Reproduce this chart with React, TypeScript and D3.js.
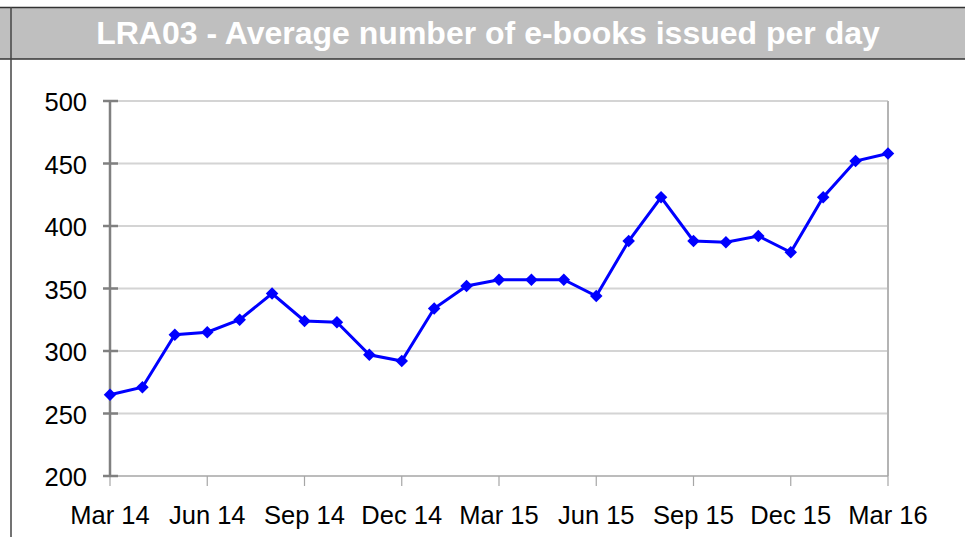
import React, { useEffect, useRef } from 'react';
import * as d3 from 'd3';

// monthly averages, Mar 14 .. Mar 16
const months = [
  'Mar 14', 'Apr 14', 'May 14', 'Jun 14', 'Jul 14', 'Aug 14', 'Sep 14', 'Oct 14', 'Nov 14',
  'Dec 14', 'Jan 15', 'Feb 15', 'Mar 15', 'Apr 15', 'May 15', 'Jun 15', 'Jul 15', 'Aug 15',
  'Sep 15', 'Oct 15', 'Nov 15', 'Dec 15', 'Jan 16', 'Feb 16', 'Mar 16'
];
const values = [
  265, 271, 313, 315, 325, 346, 324, 323, 297, 292, 334, 352, 357,
  357, 357, 344, 388, 423, 388, 387, 392, 379, 423, 452, 458
];
const xTickLabels = ['Mar 14', 'Jun 14', 'Sep 14', 'Dec 14', 'Mar 15', 'Jun 15', 'Sep 15', 'Dec 15', 'Mar 16'];
const yTicks = [200, 250, 300, 350, 400, 450, 500];
const title = 'LRA03 - Average number of e-books issued per day';

const App = () => {
  const container = useRef(null);

  useEffect(() => {
    const width = 965;
    const height = 537;
    const margins = { l: 110, t: 101, r: 77, b: 61 };
    const plotwidth = width - margins.l - margins.r;
    const plotheight = height - margins.t - margins.b;

    const xScale = d3
      .scaleLinear()
      .domain([0, months.length - 1])
      .range([0, plotwidth]);

    const yScale = d3
      .scaleLinear()
      .domain([200, 500])
      .range([plotheight, 0]);

    const svg = d3
      .select(container.current)
      .selectAll('svg')
      .data([0])
      .join('svg')
      .attr('width', width)
      .attr('height', height)
      .style('position', 'absolute')
      .style('left', 0)
      .style('top', 0)
      .style('font-family', '"Liberation Sans", Arial, sans-serif');

    svg.selectAll('*').remove();

    // title band
    svg.append('rect')
      .attr('x', 0).attr('y', 7)
      .attr('width', width).attr('height', 52)
      .attr('fill', '#bfbfbf');
    svg.append('line')
      .attr('x1', 0).attr('x2', width).attr('y1', 7.5).attr('y2', 7.5)
      .attr('stroke', '#333').attr('stroke-width', 1.5);
    svg.append('line')
      .attr('x1', 0).attr('x2', width).attr('y1', 59).attr('y2', 59)
      .attr('stroke', '#333').attr('stroke-width', 1.5);
    svg.append('line')
      .attr('x1', 11).attr('x2', 11).attr('y1', 7).attr('y2', height)
      .attr('stroke', '#444').attr('stroke-width', 1.5);
    svg.append('text')
      .attr('x', 488).attr('y', 44)
      .attr('text-anchor', 'middle')
      .attr('fill', '#fff')
      .attr('font-weight', 'bold')
      .attr('font-size', 32)
      .text(title);

    const plotg = svg.append('g')
      .attr('transform', `translate(${margins.l}, ${margins.t})`);

    // gridlines
    plotg.selectAll('.grid')
      .data(yTicks.filter(d => d > 200))
      .join('line')
      .attr('class', 'grid')
      .attr('x1', 0).attr('x2', plotwidth)
      .attr('y1', d => yScale(d)).attr('y2', d => yScale(d))
      .attr('stroke', '#d4d4d4').attr('stroke-width', 2);

    // right border
    plotg.append('line')
      .attr('x1', plotwidth).attr('x2', plotwidth)
      .attr('y1', 0).attr('y2', plotheight)
      .attr('stroke', '#b4b4b4').attr('stroke-width', 2);

    // x axis
    plotg.append('line')
      .attr('x1', 0).attr('x2', plotwidth)
      .attr('y1', plotheight).attr('y2', plotheight)
      .attr('stroke', '#a6a6a6').attr('stroke-width', 1.5);
    const xTickIdx = xTickLabels.map(l => months.indexOf(l));
    plotg.selectAll('.xtick')
      .data(xTickIdx)
      .join('line')
      .attr('class', 'xtick')
      .attr('x1', d => xScale(d)).attr('x2', d => xScale(d))
      .attr('y1', plotheight).attr('y2', plotheight + 10)
      .attr('stroke', '#a6a6a6').attr('stroke-width', 1.2);
    plotg.selectAll('.xlabel')
      .data(xTickIdx)
      .join('text')
      .attr('class', 'xlabel')
      .attr('x', d => xScale(d))
      .attr('y', plotheight + 48)
      .attr('text-anchor', 'middle')
      .attr('font-size', 25.5)
      .attr('fill', '#000')
      .text(d => months[d]);

    // y axis
    plotg.append('line')
      .attr('x1', 0).attr('x2', 0)
      .attr('y1', 0).attr('y2', plotheight)
      .attr('stroke', '#808080').attr('stroke-width', 2.5);
    plotg.selectAll('.ytick')
      .data(yTicks)
      .join('line')
      .attr('class', 'ytick')
      .attr('x1', -7).attr('x2', 8)
      .attr('y1', d => yScale(d)).attr('y2', d => yScale(d))
      .attr('stroke', '#808080').attr('stroke-width', 2.5);
    plotg.selectAll('.ylabel')
      .data(yTicks)
      .join('text')
      .attr('class', 'ylabel')
      .attr('x', -23)
      .attr('y', d => yScale(d) + 10)
      .attr('text-anchor', 'end')
      .attr('font-size', 25.5)
      .attr('fill', '#000')
      .text(d => d);

    // series
    const line = d3.line()
      .x((d, i) => xScale(i))
      .y(d => yScale(d));
    plotg.append('path')
      .datum(values)
      .attr('d', line)
      .attr('fill', 'none')
      .attr('stroke', '#0000ff')
      .attr('stroke-width', 3);

    const diamond = d3.symbol().type(d3.symbolDiamond2).size(100);
    plotg.selectAll('.marker')
      .data(values)
      .join('path')
      .attr('class', 'marker')
      .attr('transform', (d, i) => `translate(${xScale(i)}, ${yScale(d)})`)
      .attr('d', diamond)
      .attr('fill', '#0000ff');
  }, []);

  return <div ref={container}></div>;
};

export default App;
